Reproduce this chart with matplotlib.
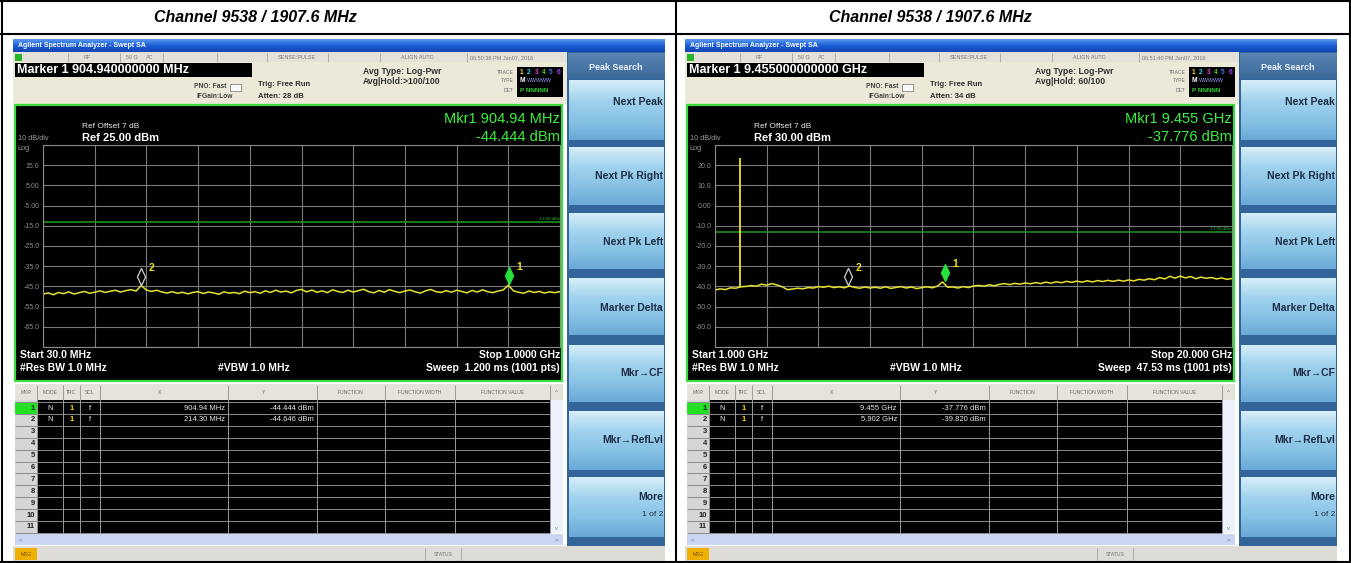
import numpy as np
import matplotlib.pyplot as plt
from matplotlib.patches import Rectangle
from matplotlib.path import Path
from matplotlib.colors import LinearSegmentedColormap

plt.rcParams['font.family'] = ['Liberation Sans', 'DejaVu Sans']

W, H = 1351, 563
DX = 672  # horizontal offset of the right screenshot

# ---------------- data ----------------
panel_title = 'Channel 9538 / 1907.6 MHz'
limit_line = -13.0

# left sweep (MHz)
left_start, left_stop = 30.0, 1000.0
left_ref = 25.0
left_level = [-48.9, -48.2, -49.1, -48.0, -48.6, -47.7, -48.8, -48.1, -47.5, -48.4,
              -47.9, -47.2, -48.0, -47.4, -46.9, -47.8, -47.1, -46.6, -47.3, -44.6,
              -46.8, -47.5, -46.9, -47.8, -48.3, -47.6, -48.4, -47.9, -48.7, -48.0,
              -47.6, -48.5, -47.8, -48.2, -48.9, -47.7, -48.3, -48.0, -48.6, -47.4,
              -48.1, -47.6, -48.4, -47.2, -48.0, -46.9, -47.8, -47.3, -48.2, -47.0,
              -46.5, -47.7, -46.8, -47.9, -47.2, -48.1, -46.7, -47.5, -48.0, -46.9,
              -47.8, -47.1, -46.4, -47.6, -48.2, -47.0, -47.9, -46.6, -47.4, -48.1,
              -47.3, -46.8, -47.7, -48.3, -47.2, -46.5, -47.6, -48.0, -47.1, -47.9,
              -46.9, -47.5, -48.2, -47.0, -47.8, -46.7, -47.6, -48.1, -47.3, -46.8,
              -44.4, -47.2, -47.9, -48.4, -47.3, -48.0, -47.5, -48.3, -47.7, -48.1,
              -47.6]
left_mkr_freq = [904.94, 214.30]
left_mkr_level = [-44.444, -44.646]
left_mkr_x = ['904.94 MHz', '214.30 MHz']
left_mkr_y = ['-44.444 dBm', '-44.646 dBm']

# right sweep (GHz)
right_start, right_stop = 1.0, 20.0
right_ref = 30.0
right_level = [-41.8, -41.2, -41.6, -40.7, -40.9, -40.2, -40.0, -39.6, -39.9, -38.9,
               -39.4, -38.6, -39.3, -40.2, -41.6, -41.3, -40.9, -41.2, -40.6, -40.8,
               -40.1, -40.4, -39.9, -40.6, -40.2, -40.7, -39.8, -40.5, -40.9, -40.3,
               -40.8, -40.4, -40.9, -40.2, -41.0, -40.5, -40.1, -40.8, -40.3, -41.1,
               -40.6, -40.2, -40.7, -39.9, -37.8, -40.4, -40.3, -40.8, -40.1, -40.6,
               -39.8, -39.5, -39.9, -39.2, -39.7, -39.0, -38.6, -39.1, -38.5, -38.9,
               -38.3, -38.7, -38.1, -38.6, -37.9, -38.4, -37.7, -38.2, -37.5, -38.0,
               -37.4, -37.9, -37.2, -37.8, -37.1, -37.6, -37.0, -37.5, -36.9, -37.4,
               -36.8, -37.3, -36.5, -36.9, -36.2, -36.7, -35.6, -36.3, -35.0, -35.9,
               -34.9, -35.8, -35.1, -36.2, -35.4, -36.0, -35.6, -36.3, -35.8, -36.5,
               -36.1]
carrier_freq = 1.9076
carrier_level = 23.6
right_mkr_freq = [9.455, 5.902]
right_mkr_level = [-37.776, -39.820]
right_mkr_x = ['9.455 GHz', '5.902 GHz']
right_mkr_y = ['-37.776 dBm', '-39.820 dBm']

left_info = dict(marker='Marker 1 904.940000000 MHz', atten='Atten: 28 dB',
                 hold='Avg|Hold:>100/100', time='06:50:38 PM Jan07, 2016',
                 ref='Ref 25.00 dBm', mkr1='Mkr1 904.94 MHz', mkr1v='-44.444 dBm',
                 start='Start 30.0 MHz', stop='Stop 1.0000 GHz',
                 sweep='Sweep  1.200 ms (1001 pts)')
right_info = dict(marker='Marker 1 9.455000000000 GHz', atten='Atten: 34 dB',
                  hold='Avg|Hold: 60/100', time='06:51:40 PM Jan07, 2016',
                  ref='Ref 30.00 dBm', mkr1='Mkr1 9.455 GHz', mkr1v='-37.776 dBm',
                  start='Start 1.000 GHz', stop='Stop 20.000 GHz',
                  sweep='Sweep  47.53 ms (1001 pts)')

softkeys = ['Next Peak', 'Next Pk Right', 'Next Pk Left', 'Marker Delta',
            'Mkr\u2192CF', 'Mkr\u2192RefLvl', 'More']
table_cols = ['MKR', 'MODE', 'TRC', 'SCL', 'X', 'Y', 'FUNCTION',
              'FUNCTION WIDTH', 'FUNCTION VALUE']

# ---------------- figure ----------------
fig = plt.figure(figsize=(W / 100, H / 100), dpi=100)
fig.patch.set_facecolor('white')
bg = fig.add_axes([0, 0, 1, 1])
bg.set_xlim(0, W)
bg.set_ylim(H, 0)
bg.axis('off')


def box(x0, y0, x1, y1, fc, ec='none', lw=0.0, z=1):
    bg.add_patch(Rectangle((x0, y0), x1 - x0, y1 - y0, facecolor=fc,
                           edgecolor=ec, linewidth=lw, zorder=z))


def label(x, y, s, size, color, ha='left', bold=False, z=5, **kw):
    bg.text(x, y, s, fontsize=size, color=color, ha=ha, va='center',
            fontweight='bold' if bold else 'normal', zorder=z, **kw)


def grad(x0, y0, x1, y1, colors, z=2):
    cmap = LinearSegmentedColormap.from_list('g', colors)
    g = np.linspace(0, 1, 64)[:, None]
    bg.imshow(g, cmap=cmap, extent=(x0, x1, y1, y0), aspect='auto',
              zorder=z, interpolation='bilinear')


def hline(x0, x1, y, color, lw=0.6, z=3):
    bg.plot([x0, x1], [y, y], color=color, lw=lw, zorder=z, solid_capstyle='butt')


def vline(x, y0, y1, color, lw=0.6, z=3):
    bg.plot([x, x], [y0, y1], color=color, lw=lw, zorder=z, solid_capstyle='butt')


def chrome(dx, info, mkr_x, mkr_y):
    L, R = 13 + dx, 665 + dx
    # window title bar
    grad(L, 39, R, 52, ['#5a9af2', '#1a5cd6', '#0e46b4'])
    label(L + 5, 45.5, 'Agilent Spectrum Analyzer - Swept SA', 5, 'white', bold=True)

    # status strip
    box(L, 52, 567 + dx, 62, '#e4e2d8')
    for sx in [68, 120, 163, 217, 267, 328, 380, 467]:
        vline(sx + dx, 53, 61.5, '#a8a69c')
    box(L + 2, 53.5, L + 9, 60.5, '#28b428', z=3)
    for x, s in [(84, 'RF'), (126, '50 \u03a9'), (146, 'AC'), (278, 'SENSE:PULSE'),
                 (401, 'ALIGN AUTO'), (470, info['time'])]:
        label(x + dx, 57.5, s, 4, '#7a7a7a')

    # settings strip
    box(L, 62, 567 + dx, 104, '#ece9d8')
    box(L + 2, 63, 252 + dx, 77, 'black', z=3)
    label(L + 4, 70, info['marker'], 9, 'white', bold=True)
    label(227 + dx, 87, 'PNO: Fast', 4.8, '#404040', ha='right', bold=True)
    label(233 + dx, 97, 'IFGain:Low', 4.8, '#404040', ha='right', bold=True)
    box(230 + dx, 84, 241 + dx, 91, '#f8f8f8', ec='#707070', lw=0.5, z=3)
    label(258 + dx, 84, 'Trig: Free Run', 5.6, '#303030', bold=True)
    label(258 + dx, 97, info['atten'], 5.6, '#303030', bold=True)
    label(363 + dx, 72, 'Avg Type: Log-Pwr', 6.2, '#303030', bold=True)
    label(363 + dx, 81, info['hold'], 6.2, '#303030', bold=True)

    # trace status box
    for y, s in [(72, 'TRACE'), (81, 'TYPE'), (91, 'DET')]:
        label(514 + dx, y, s, 3.6, '#707070', ha='right')
    box(517 + dx, 67, 563 + dx, 97, 'black', z=3)
    trace_cols = ['#f0e000', '#20d0e0', '#e040e0', '#30d030', '#4070ff', '#a040ff']
    for k, c in enumerate(trace_cols):
        label(520 + 7.3 * k + dx, 72, str(k + 1), 4.8, c, bold=True)
    label(520 + dx, 81, 'M', 4.8, 'white', bold=True)
    label(527 + dx, 81, 'WWWWW', 3.8, '#9a9aff')
    label(520 + dx, 91, 'P NNNNN', 4.6, '#30d030', bold=True)

    # trace screen
    box(15 + dx, 105, 562 + dx, 381, 'black', ec='#3ddc3d', lw=1.6, z=2)
    label(82 + dx, 127, 'Ref Offset 7 dB', 6, '#e8e8e8')
    label(82 + dx, 138, info['ref'], 8, 'white', bold=True)
    label(18 + dx, 139, '10 dB/div', 5.3, '#9a9a9a')
    label(17 + dx, 148, 'Log', 5.3, '#9a9a9a')
    label(560 + dx, 119, info['mkr1'], 10.5, '#3df03d', ha='right')
    label(560 + dx, 137, info['mkr1v'], 10.5, '#3df03d', ha='right')
    label(20 + dx, 355, info['start'], 7.5, 'white', bold=True)
    label(20 + dx, 368, '#Res BW 1.0 MHz', 7.5, 'white', bold=True)
    label(218 + dx, 368, '#VBW 1.0 MHz', 7.5, 'white', bold=True)
    label(560 + dx, 355, info['stop'], 7.5, 'white', ha='right', bold=True)
    label(560 + dx, 368, info['sweep'], 7.5, 'white', ha='right', bold=True)

    # marker table
    box(15 + dx, 384, 563 + dx, 400, '#e6e4da', z=2)
    col_edges = [37, 63, 80, 100, 228, 317, 385, 455, 550]
    col_lbl_x = [26, 50, 71.5, 90, 160, 264, 351, 420, 503]
    for x, s in zip(col_lbl_x, table_cols):
        label(x + dx, 392, s, 3.6, '#6a6a6a', ha='center')
    box(37 + dx, 400, 550 + dx, 533, 'black', z=2)
    box(15 + dx, 400, 37 + dx, 533, '#d6d6d6', z=2)
    box(15 + dx, 402, 37 + dx, 413.5, '#22e022', z=3)
    for k in range(12):
        hline(15 + dx, 550 + dx, 402 + 11.9 * k, '#8a8a8a', lw=0.7)
    for x in col_edges:
        vline(x + dx, 385, 533, '#9a9a9a', lw=0.7)
    for k in range(11):
        label(35 + dx, 408 + 11.9 * k, str(k + 1), 5.5, '#202020', ha='right', bold=True)
    for i in range(len(mkr_x)):
        y = 408 + 11.9 * i
        label(50 + dx, y, 'N', 5.5, '#e8e8e8', ha='center')
        label(71.5 + dx, y, '1', 5.5, '#f0e000', ha='center', bold=True)
        label(90 + dx, y, 'f', 5.5, '#e8e8e8', ha='center')
        label(225 + dx, y, mkr_x[i], 5.5, '#e8e8e8', ha='right')
        label(314 + dx, y, mkr_y[i], 5.5, '#e8e8e8', ha='right')
    # scroll bars
    box(550 + dx, 400, 563 + dx, 533, '#eef2fa', z=2)
    label(556.5 + dx, 392, '^', 4.5, '#7080a0', ha='center')
    label(556.5 + dx, 528, 'v', 4, '#7080a0', ha='center')
    box(15 + dx, 534, 563 + dx, 545, '#c9d5f2', z=2)
    label(19 + dx, 539.5, '<', 4.5, '#5070b0')
    label(555 + dx, 539.5, '>', 4.5, '#5070b0')
    # status bar
    box(L, 546, R, 561, '#dedcd6', z=2)
    box(15 + dx, 548, 37 + dx, 560, '#f0b000', z=3)
    label(26 + dx, 554, 'MSG', 3.6, '#805000', ha='center')
    vline(425 + dx, 548, 560, '#a0a0a0')
    vline(461 + dx, 548, 560, '#a0a0a0')
    label(443 + dx, 554, 'STATUS', 3.6, '#707070', ha='center')

    # soft keys
    box(567 + dx, 52, R, 546, '#33649a', z=2)
    grad(568 + dx, 53, R, 79, ['#5a85b4', '#3a6898'], z=3)
    label(616 + dx, 67, 'Peak Search', 6.5, '#eef4fa', ha='center', bold=True)
    spans = [(80, 140), (147, 205), (213, 269), (278, 335), (345, 402), (411, 470), (477, 537)]
    text_y = [102, 176, 242, 308, 373, 440, 497]
    for (t, b), name, ty in zip(spans, softkeys, text_y):
        grad(569 + dx, t, R - 1, b, ['#d6eef9', '#a2d3ee', '#88c2e4', '#6aaad8'], z=3)
        label(R - 2, ty, name, 7.5, '#1d2c44', ha='right', bold=True)
    label(R - 2, 515, '1 of 2', 6, '#1d2c44', ha='right')


def db_fmt(v):
    return f'{v:.2f}' if abs(v) < 10 else f'{v:.1f}'


diamond = Path([(0, 0.1), (0.45, 1.05), (0, 2), (-0.45, 1.05), (0, 0.1)],
               [Path.MOVETO, Path.LINETO, Path.LINETO, Path.LINETO, Path.CLOSEPOLY])


def trace_axes(dx, start, stop, ref, level, mkr_freq, mkr_level):
    ax = fig.add_axes([(43 + dx) / W, 1 - 347 / H, 517 / W, 202 / H])
    ax.set_facecolor('black')
    ax.set_xlim(start, stop)
    ax.set_ylim(ref - 100, ref)
    ax.set_xticks(np.linspace(start, stop, 11))
    ax.set_xticklabels([])
    yt = ref - 10 * np.arange(11)
    ax.set_yticks(yt)
    ax.set_yticklabels(['' if k in (0, 10) else db_fmt(v) for k, v in enumerate(yt)])
    ax.tick_params(length=0, colors='#8e8e8e', labelsize=5, pad=2.5)
    ax.grid(True, color='#7a7a7a', lw=0.8)
    for s in ax.spines.values():
        s.set_color('#8a8a8a')
    ax.axhline(limit_line, color='#1f9a1f', lw=1.1)
    ax.text(stop, limit_line + 0.6, '-13.00 dBm', ha='right', va='bottom',
            fontsize=3.2, color='#2ab02a')
    freqs = np.linspace(start, stop, len(level))
    ax.plot(freqs, level, color='#e8e22e', lw=1.1)
    fills = ['#28e03c', 'none']
    edges = ['#28e03c', '#d0d0d0']
    for n, (f, v) in enumerate(zip(mkr_freq, mkr_level)):
        ax.plot(f, v, marker=diamond, ms=26, mfc=fills[n], mec=edges[n], mew=0.9)
        ax.annotate(str(n + 1), xy=(f, v), xytext=(5, 13), textcoords='offset points',
                    color='#f0e020', fontsize=7.5, fontweight='bold', va='center')
    return ax, freqs


# outer table
box(0, 0, W, 34, 'white', z=0)
for y in [1, 33.5, 561.5]:
    hline(0, W, y, 'black', lw=1.5, z=6)
for x in [1.5, 676, 1349.5]:
    vline(x, 0, H, 'black', lw=1.5, z=6)
bg.text(255, 17, panel_title, fontsize=11.5, fontweight='bold', style='italic',
        ha='center', va='center')
bg.text(255 + 675, 17, panel_title, fontsize=11.5, fontweight='bold', style='italic',
        ha='center', va='center')

chrome(0, left_info, left_mkr_x, left_mkr_y)
chrome(DX, right_info, right_mkr_x, right_mkr_y)
bg.set_xlim(0, W)
bg.set_ylim(H, 0)

trace_axes(0, left_start, left_stop, left_ref, left_level, left_mkr_freq, left_mkr_level)
axr, rf = trace_axes(DX, right_start, right_stop, right_ref, right_level,
                     right_mkr_freq, right_mkr_level)
base = right_level[int(np.argmin(np.abs(rf - carrier_freq)))]
axr.vlines(carrier_freq, base, carrier_level, color='#e8e22e', lw=1.3)

fig.savefig('out.png', dpi=100)
